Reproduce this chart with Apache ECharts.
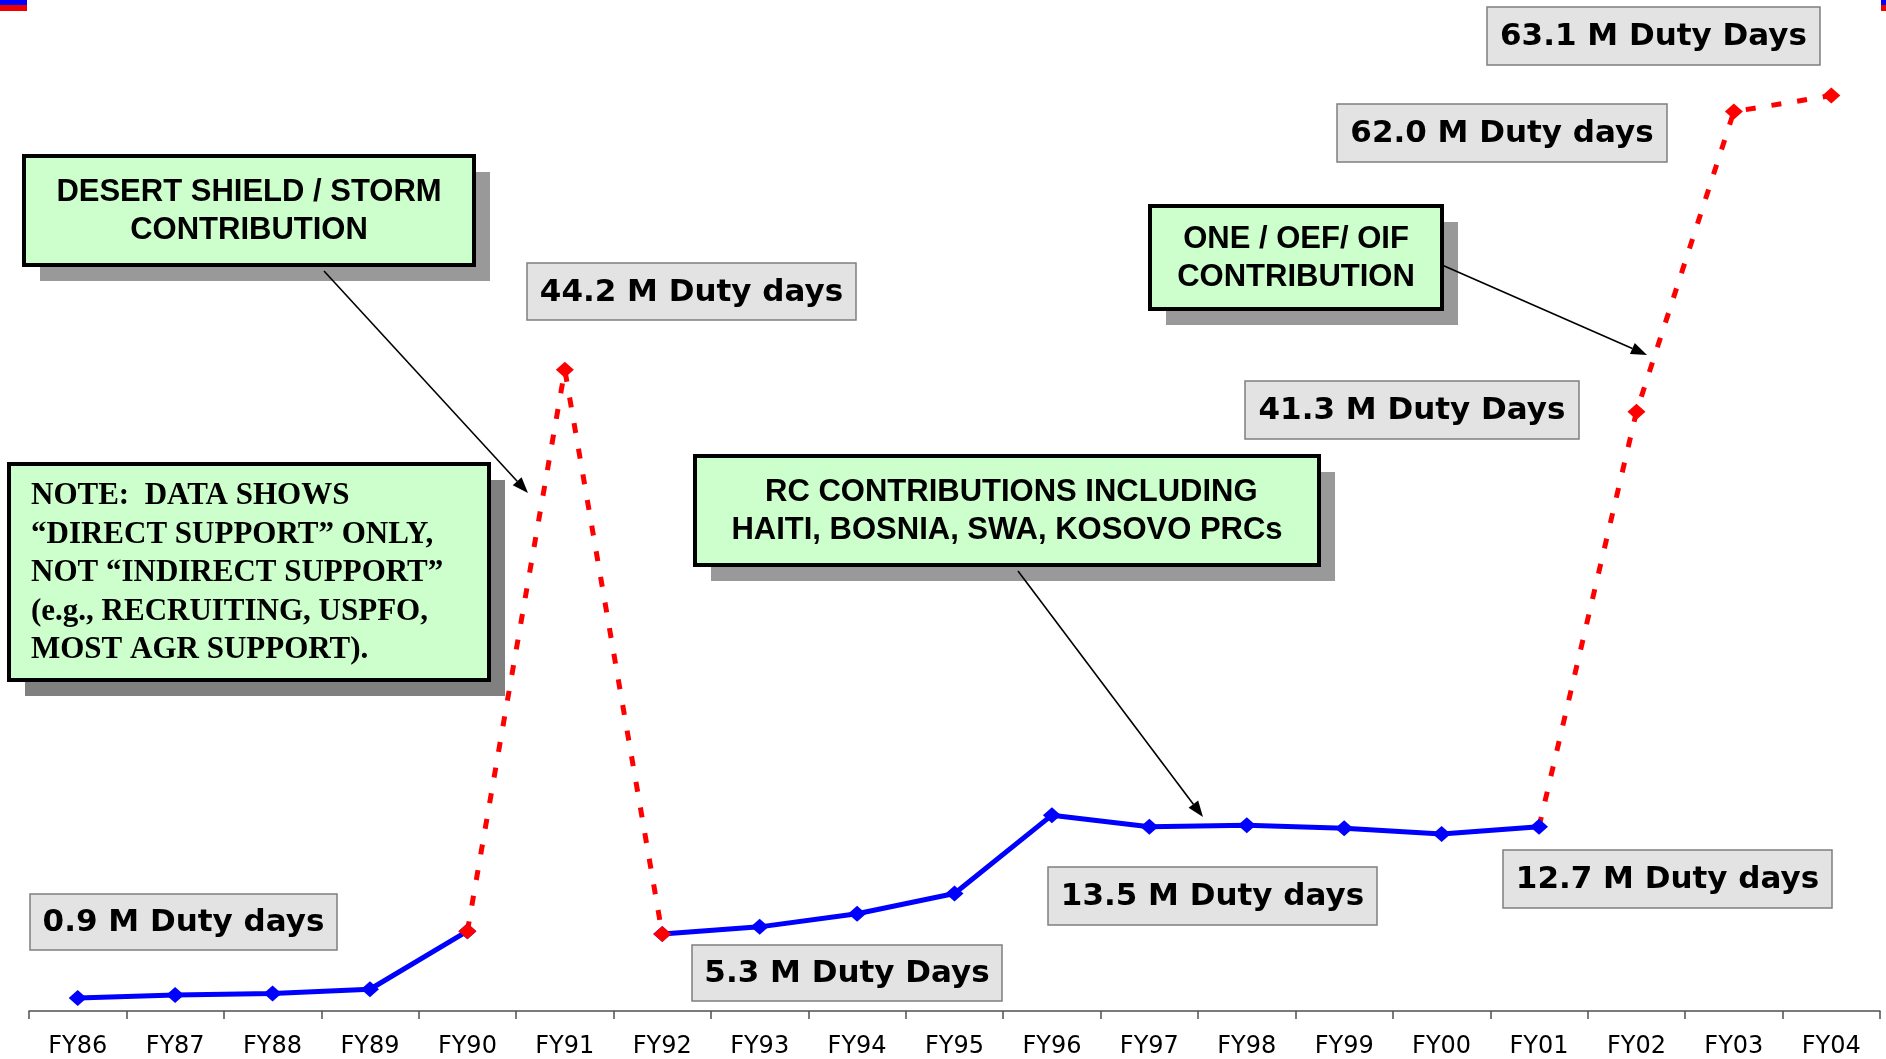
<!DOCTYPE html>
<html>
<head>
<meta charset="utf-8">
<script src="https://cdn.jsdelivr.net/npm/echarts@6/dist/echarts.min.js"></script>
<style>
html, body { margin: 0; padding: 0; background: #fff; }
#chart { width: 1886px; height: 1059px; }
</style>
</head>
<body>
<div id="chart"></div>
<script>
const years = ['FY86', 'FY87', 'FY88', 'FY89', 'FY90', 'FY91', 'FY92', 'FY93', 'FY94', 'FY95',
    'FY96', 'FY97', 'FY98', 'FY99', 'FY00', 'FY01', 'FY02', 'FY03', 'FY04'];

// millions of duty days, blue = steady years, red dashed = surge years
const steadyDays = [0.9, 1.1, 1.2, 1.5, 5.5, null, 5.3, 5.8, 6.7, 8.1,
    13.5, 12.7, 12.8, 12.6, 12.2, 12.7, null, null, null];
const surgeDays = [null, null, null, null, 5.5, 44.2, 5.3, null, null, null,
    null, null, null, null, null, 12.7, 41.3, 62.0, 63.1];

const dutyLabels = ['0.9 M Duty days', '44.2 M Duty days', '5.3 M Duty Days', '13.5 M Duty days',
    '12.7 M Duty days', '41.3 M Duty Days', '62.0 M Duty days', '63.1 M Duty Days'];

const noteText = 'NOTE:  DATA SHOWS\n\u201CDIRECT SUPPORT\u201D ONLY,\nNOT \u201CINDIRECT SUPPORT\u201D\n(e.g., RECRUITING, USPFO,\nMOST AGR SUPPORT).';
const desertText = 'DESERT SHIELD / STORM\nCONTRIBUTION';
const oneText = 'ONE / OEF/ OIF\nCONTRIBUTION';
const rcText = ' RC CONTRIBUTIONS INCLUDING\nHAITI, BOSNIA, SWA, KOSOVO PRCs';

let chartDom = document.getElementById('chart');
let chart = echarts.init(chartDom);

function grayBox(text, x, y, w, h) {
    return {
        type: 'group', x: x, y: y, z: 10,
        children: [
            { type: 'rect', shape: { x: 0, y: 0, width: w, height: h },
              style: { fill: '#e3e3e3', stroke: '#7f7f7f', lineWidth: 1.5 } },
            { type: 'text', x: w / 2, y: h / 2 + 1,
              style: { text: text, fill: '#000', font: 'bold 31px "DejaVu Sans"', align: 'center', verticalAlign: 'middle' } }
        ]
    };
}

function greenBox(text, x, y, w, h, opts) {
    const shadow = opts.shadow || '#999999';
    return {
        type: 'group', x: x, y: y, z: 10,
        children: [
            { type: 'rect', shape: { x: 16, y: 16, width: w, height: h }, style: { fill: shadow } },
            { type: 'rect', shape: { x: 0, y: 0, width: w, height: h },
              style: { fill: '#ccffcc', stroke: '#000', lineWidth: 4 } },
            { type: 'text', x: opts.align === 'left' ? 22 : w / 2, y: h / 2 + 1,
              style: { text: text, fill: '#000', font: opts.font, lineHeight: opts.lineHeight,
                       align: opts.align || 'center', verticalAlign: 'middle' } }
        ]
    };
}

function arrow(x1, y1, x2, y2) {
    const len = Math.hypot(x2 - x1, y2 - y1);
    const ux = (x2 - x1) / len, uy = (y2 - y1) / len;
    const bx = x2 - ux * 16, by = y2 - uy * 16;
    return [
        { type: 'line', z: 11, shape: { x1: x1, y1: y1, x2: bx, y2: by }, style: { stroke: '#000', lineWidth: 1.6 } },
        { type: 'polygon', z: 11, shape: { points: [[x2, y2], [bx - uy * 6, by + ux * 6], [bx + uy * 6, by - ux * 6]] },
          style: { fill: '#000' } }
    ];
}

let graphics = [
    { type: 'rect', shape: { x: 0, y: 0, width: 27, height: 5 }, style: { fill: '#0000ff' } },
    { type: 'rect', shape: { x: 0, y: 5, width: 27, height: 6 }, style: { fill: '#ee0000' } },
    { type: 'rect', shape: { x: 1881, y: 0, width: 5, height: 5 }, style: { fill: '#0000ff' } },
    { type: 'rect', shape: { x: 1881, y: 5, width: 5, height: 6 }, style: { fill: '#ee0000' } },
    grayBox(dutyLabels[0], 30, 894, 307, 56),
    grayBox(dutyLabels[1], 527, 263, 329, 57),
    grayBox(dutyLabels[2], 692, 945, 310, 56),
    grayBox(dutyLabels[3], 1048, 867, 329, 58),
    grayBox(dutyLabels[4], 1503, 850, 329, 58),
    grayBox(dutyLabels[5], 1245, 381, 334, 58),
    grayBox(dutyLabels[6], 1337, 104, 330, 58),
    grayBox(dutyLabels[7], 1487, 7, 333, 58),
    greenBox(desertText, 24, 156, 450, 109, { font: 'bold 31px "Liberation Sans"', lineHeight: 38 }),
    greenBox(oneText, 1150, 206, 292, 103, { font: 'bold 31px "Liberation Sans"', lineHeight: 38 }),
    greenBox(rcText, 695, 456, 624, 109, { font: 'bold 31px "Liberation Sans"', lineHeight: 38 }),
    greenBox(noteText, 9, 464, 480, 216, { font: 'bold 31px "Liberation Serif"', lineHeight: 38.5, align: 'left', shadow: '#808080' })
].concat(
    arrow(324, 271, 528, 493),
    arrow(1442, 265, 1647, 355),
    arrow(1018, 571, 1203, 817)
);

let option = {
    backgroundColor: '#ffffff',
    animation: false,
    grid: { left: 29, right: 6, top: 10, bottom: 47 },
    xAxis: {
        type: 'category',
        data: years,
        axisLine: { show: true, lineStyle: { color: '#505050', width: 1.5 } },
        axisTick: { show: true, length: 8, lineStyle: { color: '#505050', width: 1.5 } },
        axisLabel: { color: '#000', fontFamily: 'DejaVu Sans', fontSize: 24, margin: 24 }
    },
    yAxis: {
        type: 'value', min: 0, max: 69, show: false,
        splitLine: { show: false }
    },
    series: [
        {
            name: 'Steady',
            type: 'line',
            data: steadyDays,
            connectNulls: false,
            symbol: 'diamond',
            symbolSize: [18, 16],
            lineStyle: { color: '#0000ff', width: 5 },
            itemStyle: { color: '#0000ff' }
        },
        {
            name: 'Surge',
            type: 'line',
            data: surgeDays.map((v, i) => years[i] === 'FY01' ? { value: v, symbol: 'none' } : v),
            connectNulls: false,
            symbol: 'diamond',
            symbolSize: [18, 16],
            lineStyle: { color: '#ff0000', width: 5, type: [10, 16] },
            itemStyle: { color: '#ff0000' }
        }
    ],
    graphic: graphics
};

chart.setOption(option);

window.addEventListener('resize', () => {
    chart.resize();
});
</script>
</body>
</html>
